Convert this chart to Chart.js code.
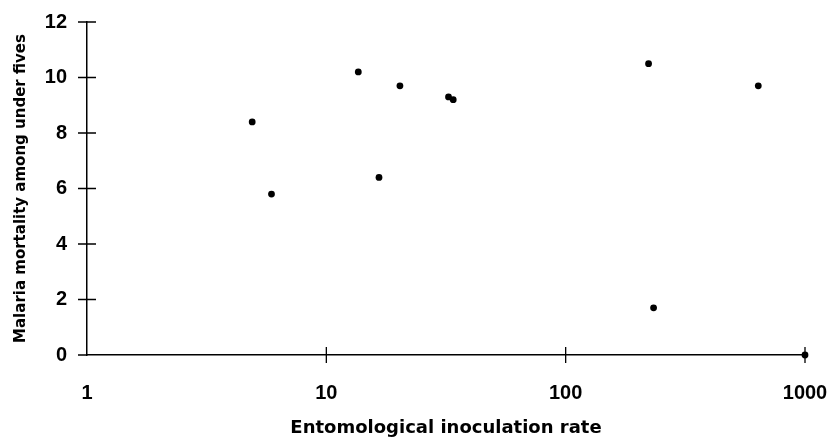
<!DOCTYPE html>
<html>
<head>
<meta charset="utf-8">
<script src="https://cdn.jsdelivr.net/npm/chart.js@4/dist/chart.umd.min.js"></script>
<style>
  html, body { margin: 0; padding: 0; background: #fff; }
  #wrap { width: 833px; height: 437px; position: relative; }
</style>
</head>
<body>
<div id="wrap"><canvas id="c"></canvas></div>
<script>
// Data
const eirValues = [4.9, 5.9, 13.6, 16.6, 20.3, 32.4, 33.9, 222, 233, 638, 1000];
const mortalityValues = [8.4, 5.8, 10.2, 6.4, 9.7, 9.3, 9.2, 10.5, 1.7, 9.7, 0];
const xTickValues = [1, 10, 100, 1000];
const yTickValues = [0, 2, 4, 6, 8, 10, 12];
const xTitle = 'Entomological inoculation rate';
const yTitle = 'Malaria mortality among under fives';

const points = eirValues.map((x, i) => ({ x: x, y: mortalityValues[i] }));

const crossTicks = {
  id: 'crossTicks',
  afterDraw(chart) {
    const ctx = chart.ctx;
    const xs = chart.scales.x, ys = chart.scales.y;
    const area = chart.chartArea;
    ctx.save();
    ctx.strokeStyle = '#000';
    ctx.lineWidth = 1.3;
    ctx.beginPath();
    xs.ticks.forEach(t => {
      if (t.value === xTickValues[0]) return;
      const px = xs.getPixelForValue(t.value);
      ctx.moveTo(px, area.bottom - 8);
      ctx.lineTo(px, area.bottom + 8);
    });
    ys.ticks.forEach(t => {
      const py = ys.getPixelForValue(t.value);
      ctx.moveTo(area.left - 9, py);
      ctx.lineTo(area.left + (t.value === yTickValues[0] ? 0 : 9), py);
    });
    ctx.stroke();
    ctx.restore();
  }
};

new Chart(document.getElementById('c'), {
  type: 'scatter',
  data: {
    datasets: [{
      data: points,
      backgroundColor: '#000',
      borderColor: '#000',
      pointRadius: 3.4,
      pointHoverRadius: 3.4,
      borderWidth: 0,
      clip: false
    }]
  },
  options: {
    responsive: true,
    maintainAspectRatio: false,
    animation: false,
    events: [],
    layout: { padding: { left: 0, top: 22, right: 28, bottom: 0 } },
    plugins: { legend: { display: false }, tooltip: { enabled: false } },
    scales: {
      x: {
        type: 'logarithmic',
        min: 1, max: 1000,
        afterBuildTicks: s => { s.ticks = xTickValues.map(v => ({ value: v })); },
        afterFit: s => { s.height = 82; s.paddingLeft = 0; s.paddingRight = 0; },
        grid: { display: true, drawOnChartArea: false, drawTicks: false },
        border: { display: true, color: '#000', width: 1.5 },
        ticks: {
          color: '#000',
          padding: 26,
          maxRotation: 0,
          autoSkip: false,
          font: { family: 'Liberation Sans', size: 20, weight: 'bold' },
          callback: v => String(v)
        },
        title: {
          display: true, text: xTitle, color: '#000',
          padding: { top: 0, bottom: 0 },
          font: { family: 'DejaVu Sans', size: 18, weight: 'bold', lineHeight: 1.0 }
        }
      },
      y: {
        min: 0, max: 12,
        afterBuildTicks: s => { s.ticks = yTickValues.map(v => ({ value: v })); },
        afterFit: s => { s.width = 87; s.paddingTop = 0; s.paddingBottom = 0; },
        grid: { display: true, drawOnChartArea: false, drawTicks: false },
        border: { display: true, color: '#000', width: 1.5 },
        ticks: {
          color: '#000',
          padding: 20,
          font: { family: 'Liberation Sans', size: 20, weight: 'bold' }
        },
        title: {
          display: true, text: yTitle, color: '#000',
          padding: { top: 12, bottom: 0 },
          font: { family: 'DejaVu Sans', size: 15, weight: 'bold' }
        }
      }
    }
  },
  plugins: [crossTicks]
});
</script>
</body>
</html>
